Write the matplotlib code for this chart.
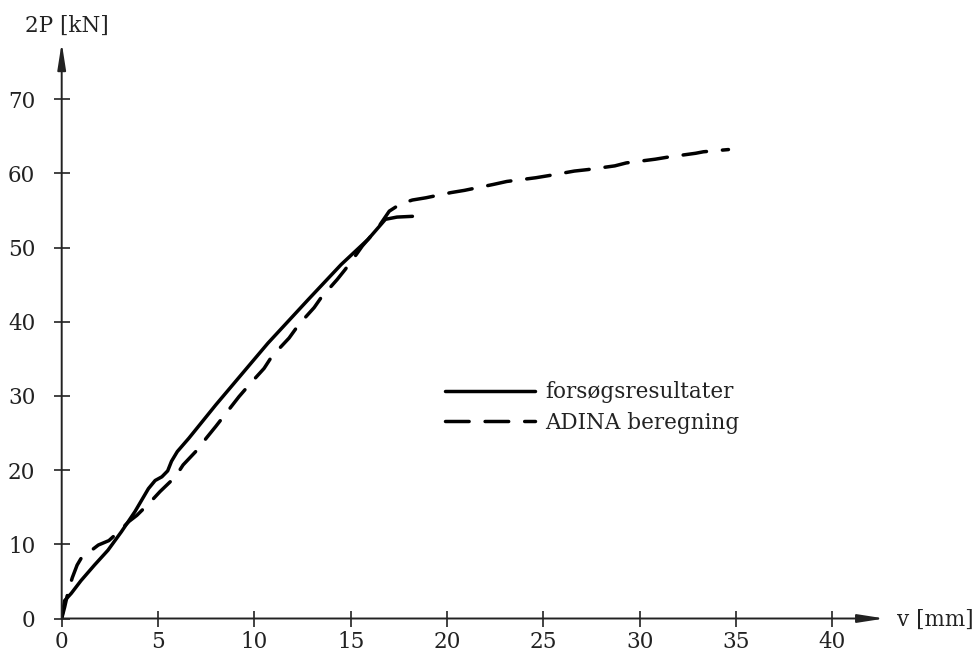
import matplotlib

matplotlib.use("Agg")
import matplotlib.pyplot as plt

plt.rcParams["font.family"] = ["DejaVu Serif"]

# Test results (forsøgsresultater): v [mm], 2P [kN]
test_v = [0, 0.15, 0.5, 1.0, 1.7, 2.4, 3.1, 3.8, 4.5, 4.85, 5.2, 5.5, 5.7,
          6.0, 6.6, 8.0, 10.7, 12.8, 14.5, 15.9, 16.8, 17.4, 18.2]
test_p = [0, 2.4, 3.4, 5.1, 7.2, 9.2, 11.7, 14.4, 17.5, 18.6, 19.1, 19.9, 21.2,
          22.5, 24.3, 28.8, 37.1, 43.0, 47.7, 51.1, 53.8, 54.1, 54.2]

# ADINA calculation (ADINA beregning)
adina_v = [0, 0.15, 0.35, 0.55, 0.8, 1.05, 1.55, 1.9, 2.45, 3.0, 3.5, 3.9,
           4.6, 5.1, 5.9, 6.3, 7.1, 7.5, 8.0, 9.2, 9.8, 10.5, 10.9, 11.8,
           12.3, 13.1, 13.45, 14.3, 14.7, 15.3, 15.6, 16.2, 16.5, 17.0, 17.6,
           18.2, 18.9, 20.2, 20.9, 22.4, 23.1, 24.6, 25.3, 26.6, 27.3, 28.7,
           29.3, 30.8, 31.5, 32.9, 33.3, 34.6]
adina_p = [0, 1.5, 3.8, 5.5, 7.2, 8.3, 9.2, 9.9, 10.5, 11.8, 13.1, 13.9,
           15.7, 17.1, 19.1, 20.7, 22.9, 24.3, 25.9, 29.9, 31.7, 33.7, 35.3,
           37.8, 39.6, 41.9, 43.2, 45.7, 47.0, 49.1, 50.2, 52.0, 53.0, 54.9,
           55.9, 56.4, 56.7, 57.4, 57.7, 58.5, 58.9, 59.4, 59.7, 60.3, 60.5,
           61.0, 61.4, 61.9, 62.2, 62.7, 62.9, 63.2]

x_ticks = [0, 5, 10, 15, 20, 25, 30, 35, 40]
y_ticks = [0, 10, 20, 30, 40, 50, 60, 70]

X_MAX = 42.7
Y_MAX = 77.6
DASH = (0, (6.8, 4.6))
FS = 15.5


def main() -> None:
    fig = plt.figure(figsize=(9.78, 6.52), dpi=100)
    ax = fig.add_axes([61.7 / 978, 33.5 / 652, X_MAX * 19.27 / 978, Y_MAX * 7.42 / 652])
    ax.set_xlim(0, X_MAX)
    ax.set_ylim(0, Y_MAX)
    for side in ax.spines.values():
        side.set_visible(False)

    arrow = dict(arrowstyle="-|>,head_length=1.6,head_width=0.25", lw=1.4,
                 color="#222222", shrinkA=0, shrinkB=0)
    ax.annotate("", xy=(X_MAX, 0), xytext=(0, 0), arrowprops=arrow, annotation_clip=False)
    ax.annotate("", xy=(0, Y_MAX), xytext=(0, 0), arrowprops=arrow, annotation_clip=False)

    ax.plot(test_v, test_p, color="black", lw=2.5, solid_capstyle="round",
            label="forsøgsresultater")
    ax.plot(adina_v, adina_p, color="black", lw=2.5, linestyle=DASH,
            dash_capstyle="round", label="ADINA beregning")

    ax.set_xticks(x_ticks)
    ax.set_yticks(y_ticks)
    ax.tick_params(direction="inout", length=12, width=1.2, color="#222222",
                   labelsize=FS, labelcolor="#222222")
    ax.tick_params(axis="y", pad=13)
    ax.tick_params(axis="x", pad=3)

    fig.text(67 / 978, 1 - 26 / 652, "2P [kN]", ha="center", va="center",
             fontsize=FS, color="#222222")
    fig.text(897 / 978, 1 - 620 / 652, "v [mm]", ha="left", va="center",
             fontsize=FS, color="#222222")

    ax.legend(loc="center left", bbox_to_anchor=(445 / 978, 1 - 407.5 / 652),
              bbox_transform=fig.transFigure, frameon=False, fontsize=FS,
              handlelength=4.2, handletextpad=0.45, labelspacing=0.4,
              borderpad=0, borderaxespad=0, labelcolor="#222222")

    fig.savefig("out.png", dpi=100, facecolor="white")
    plt.close(fig)


if __name__ == "__main__":
    main()
